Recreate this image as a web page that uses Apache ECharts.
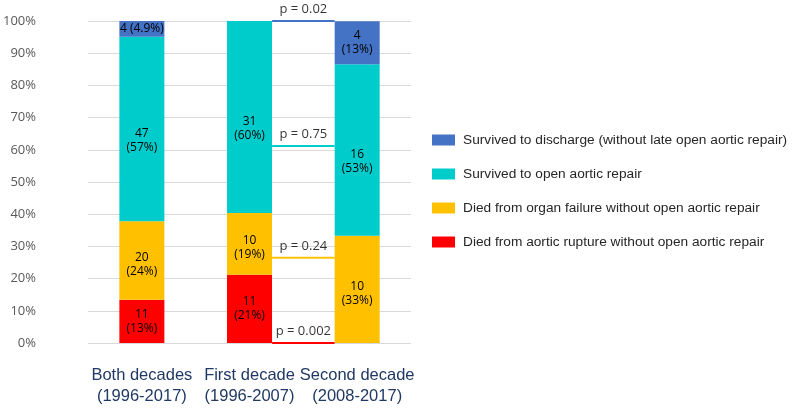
<!DOCTYPE html>
<html>
<head>
<meta charset="utf-8">
<script src="https://cdn.jsdelivr.net/npm/echarts@6/dist/echarts.min.js"></script>
<style>
  html, body { margin: 0; padding: 0; background: #fff; }
  #chart { width: 800px; height: 409px; }
</style>
</head>
<body>
<div id="chart"></div>
<script>
const categories = ['Both decades\n(1996-2017)', 'First decade\n(1996-2007)', 'Second decade\n(2008-2017)']
const seriesNames = [
  'Survived to discharge (without late open aortic repair)',
  'Survived to open aortic repair',
  'Died from organ failure without open aortic repair',
  'Died from aortic rupture without open aortic repair'
]
// percentages, bottom to top: rupture, organ failure, open repair, discharge
const rupturePct = [13.4, 21.2, 0]
const organPct = [24.4, 19.2, 33.3]
const repairPct = [57.3, 59.6, 53.3]
const dischargePct = [4.9, 0, 13.3]
const ruptureLabels = ['11\n(13%)', '11\n(21%)', '']
const organLabels = ['20\n(24%)', '10\n(19%)', '10\n(33%)']
const repairLabels = ['47\n(57%)', '31\n(60%)', '16\n(53%)']
const dischargeLabels = ['4 (4.9%)', '', '4\n(13%)']
const pValues = ['p = 0.02', 'p = 0.75', 'p = 0.24', 'p = 0.002']
const pLineY = [100, 61.2, 26.5, 0]
const pLineX = [1.21, 1.79]
const yTicks = [0, 10, 20, 30, 40, 50, 60, 70, 80, 90, 100]
const colors = ['#4472c4', '#00cccc', '#ffc000', '#ff0000']

const chart = echarts.init(document.getElementById('chart'))

function barSeries(name, data, labels, color, offset) {
  return {
    name: name,
    type: 'bar',
    stack: 'total',
    barWidth: 45,
    data: data,
    itemStyle: { color: color },
    label: {
      show: true,
      position: 'inside',
      offset: offset || [0, 0],
      color: '#000000',
      fontSize: 12,
      lineHeight: 14,
      fontFamily: 'Open Sans',
      formatter: p => labels[p.dataIndex]
    }
  }
}

const pSeries = []
pLineY.forEach((y, i) => {
  pSeries.push({
    type: 'line',
    xAxisIndex: 1,
    data: [[pLineX[0], y], [pLineX[1], y]],
    symbol: 'none',
    lineStyle: { color: colors[i], width: 2 },
    silent: true,
    z: 5
  })
  pSeries.push({
    type: 'scatter',
    xAxisIndex: 1,
    data: [[(pLineX[0] + pLineX[1]) / 2, y]],
    symbolSize: 0,
    silent: true,
    label: {
      show: true,
      position: 'top',
      distance: 5,
      color: '#000000',
      fontSize: 13,
      fontFamily: 'Open Sans',
      formatter: pValues[i]
    }
  })
})

const option = {
  animation: false,
  grid: {
    left: 87,
    right: 389,
    top: 21,
    bottom: 66
  },
  legend: {
    data: seriesNames,
    orient: 'vertical',
    left: 427,
    top: 128,
    itemWidth: 23,
    itemHeight: 11,
    itemGap: 20,
    icon: 'rect',
    textStyle: {
      color: '#262626',
      fontSize: 13.7,
      fontFamily: 'Liberation Sans',
      padding: [0, 0, 0, 3]
    }
  },
  xAxis: [
    {
      type: 'category',
      data: categories,
      axisLine: { show: false },
      axisTick: { show: false },
      axisLabel: {
        interval: 0,
        color: '#1f3864',
        fontSize: 16.5,
        lineHeight: 21,
        margin: 22,
        fontFamily: 'Liberation Sans'
      }
    },
    {
      type: 'value',
      min: -0.5,
      max: 2.5,
      show: false
    }
  ],
  yAxis: {
    type: 'value',
    min: 0,
    max: 100,
    interval: 10,
    axisLine: { show: false },
    axisTick: { show: false },
    splitLine: { lineStyle: { color: '#d9d9d9', width: 1 } },
    axisLabel: {
      color: '#595959',
      fontSize: 13,
      margin: 52,
      fontFamily: 'Open Sans',
      formatter: v => (yTicks.indexOf(v) >= 0 ? v + '%' : '')
    }
  },
  series: [
    barSeries(seriesNames[3], rupturePct, ruptureLabels, colors[3]),
    barSeries(seriesNames[2], organPct, organLabels, colors[2], [0, 4]),
    barSeries(seriesNames[1], repairPct, repairLabels, colors[1], [0, 12]),
    barSeries(seriesNames[0], dischargePct, dischargeLabels, colors[0])
  ].concat(pSeries)
}

chart.setOption(option)
</script>
</body>
</html>
